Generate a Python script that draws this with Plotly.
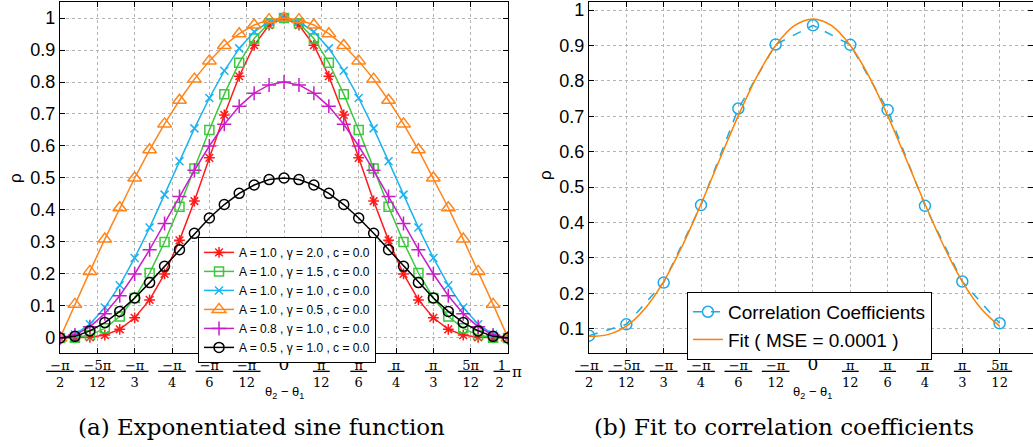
import numpy as np
import plotly.graph_objects as go

# ---------------- data ----------------
theta_deg = [-90, -84, -78, -72, -66, -60, -54, -48, -42, -36, -30, -24, -18, -12, -6, 0,
             6, 12, 18, 24, 30, 36, 42, 48, 54, 60, 66, 72, 78, 84, 90]

rho_a10_g20 = [0.000, 0.000, 0.002, 0.009, 0.027, 0.063, 0.119, 0.200, 0.305, 0.428, 0.563, 0.697, 0.818, 0.915, 0.978, 1.000,
               0.978, 0.915, 0.818, 0.697, 0.563, 0.428, 0.305, 0.200, 0.119, 0.063, 0.027, 0.009, 0.002, 0.000, 0.000]
rho_a10_g15 = [0.000, 0.001, 0.009, 0.030, 0.067, 0.125, 0.203, 0.300, 0.410, 0.530, 0.650, 0.762, 0.860, 0.936, 0.984, 1.000,
               0.984, 0.936, 0.860, 0.762, 0.650, 0.530, 0.410, 0.300, 0.203, 0.125, 0.067, 0.030, 0.009, 0.001, 0.000]
rho_a10_g10 = [0.000, 0.011, 0.043, 0.095, 0.165, 0.250, 0.345, 0.448, 0.552, 0.655, 0.750, 0.835, 0.905, 0.957, 0.989, 1.000,
               0.989, 0.957, 0.905, 0.835, 0.750, 0.655, 0.552, 0.448, 0.345, 0.250, 0.165, 0.095, 0.043, 0.011, 0.000]
rho_a10_g05 = [0.000, 0.105, 0.208, 0.309, 0.407, 0.500, 0.588, 0.669, 0.743, 0.809, 0.866, 0.914, 0.951, 0.978, 0.995, 1.000,
               0.995, 0.978, 0.951, 0.914, 0.866, 0.809, 0.743, 0.669, 0.588, 0.500, 0.407, 0.309, 0.208, 0.105, 0.000]
rho_a08_g10 = [0.000, 0.009, 0.035, 0.076, 0.132, 0.200, 0.276, 0.358, 0.442, 0.524, 0.600, 0.668, 0.724, 0.765, 0.791, 0.800,
               0.791, 0.765, 0.724, 0.668, 0.600, 0.524, 0.442, 0.358, 0.276, 0.200, 0.132, 0.076, 0.035, 0.009, 0.000]
rho_a05_g10 = [0.000, 0.005, 0.022, 0.048, 0.083, 0.125, 0.173, 0.224, 0.276, 0.327, 0.375, 0.417, 0.452, 0.478, 0.495, 0.500,
               0.495, 0.478, 0.452, 0.417, 0.375, 0.327, 0.276, 0.224, 0.173, 0.125, 0.083, 0.048, 0.022, 0.005, 0.000]

series_names = ["A = 1.0 , γ = 2.0 , c = 0.0", "A = 1.0 , γ = 1.5 , c = 0.0",
                "A = 1.0 , γ = 1.0 , c = 0.0", "A = 1.0 , γ = 0.5 , c = 0.0",
                "A = 0.8 , γ = 1.0 , c = 0.0", "A = 0.5 , γ = 1.0 , c = 0.0"]

corr_deg = [-90, -75, -60, -45, -30, -15, 0, 15, 30, 45, 60, 75]
corr_vals = [0.080, 0.112, 0.230, 0.449, 0.722, 0.903, 0.957, 0.902, 0.718, 0.447, 0.233, 0.115]

fit_deg = [-90, -82.5, -75, -67.5, -60, -52.5, -45, -37.5, -30, -22.5, -15, -7.5, 0,
           7.5, 15, 22.5, 30, 37.5, 45, 52.5, 60, 67.5, 75]
fit_vals = [0.078, 0.083, 0.107, 0.157, 0.233, 0.334, 0.452, 0.578, 0.702, 0.813, 0.900, 0.956, 0.975,
            0.956, 0.900, 0.813, 0.702, 0.578, 0.452, 0.334, 0.233, 0.157, 0.107]

left_tick_deg = [-90, -75, -60, -45, -30, -15, 0, 15, 30, 45, 60, 75, 90]
right_tick_deg = [-90, -75, -60, -45, -30, -15, 0, 15, 30, 45, 60, 75]
tick_num = ["−π", "−5π", "−π", "−π", "−π", "−π", "0", "π", "π", "π", "π", "5π", "1"]
tick_den = ["2", "12", "3", "4", "6", "12", "", "12", "6", "4", "3", "12", "2"]

left_yticks = [0, 0.1, 0.2, 0.3, 0.4, 0.5, 0.6, 0.7, 0.8, 0.9, 1.0]
right_yticks = [0.1, 0.2, 0.3, 0.4, 0.5, 0.6, 0.7, 0.8, 0.9, 1.0]

# ---------------- helpers ----------------
rad = lambda lst: [d * np.pi / 180 for d in lst]
NB = "\u00a0"


def frac(n, d, last=False):
    if d == "":
        return "<span style='font-size:17px'>" + n + "</span>"
    if last:
        return "<u>" + NB + n + NB + "</u>" + NB * 3 + "<br>" + d + NB * 4
    return "<u>" + NB + n + NB + "</u><br>" + d


tick_text = [frac(n, d, i == len(tick_num) - 1) for i, (n, d) in enumerate(zip(tick_num, tick_den))]

SANS = "Liberation Sans, Arial, sans-serif"
SERIF = "DejaVu Serif, serif"

fig = go.Figure()

styles = [
    dict(color="#ff1a1a", symbol="asterisk-open", size=9),
    dict(color="#3cc83c", symbol="square-open", size=9),
    dict(color="#1ab4f0", symbol="x-thin-open", size=8),
    dict(color="#ff8419", symbol="triangle-up-open", size=12),
    dict(color="#c81ec8", symbol="cross-thin-open", size=10),
    dict(color="#000000", symbol="circle-open", size=10),
]
series = [rho_a10_g20, rho_a10_g15, rho_a10_g10, rho_a10_g05, rho_a08_g10, rho_a05_g10]

for name, vals, st in zip(series_names, series, styles):
    fig.add_trace(go.Scatter(
        x=rad(theta_deg), y=vals, mode="lines+markers", name=name,
        line=dict(color=st["color"], width=1.5),
        marker=dict(symbol=st["symbol"], size=st["size"], color=st["color"],
                    line=dict(color=st["color"], width=1.5)),
        xaxis="x", yaxis="y", legend="legend"))

fig.add_trace(go.Scatter(
    x=rad(corr_deg), y=corr_vals, mode="lines+markers", name="Correlation Coefficients",
    line=dict(color="#1aaae6", width=1.5, dash="dash"),
    marker=dict(symbol="circle-open", size=11, color="#1aaae6", line=dict(color="#1aaae6", width=1.5)),
    xaxis="x2", yaxis="y2", legend="legend2"))
fig.add_trace(go.Scatter(
    x=rad(fit_deg), y=fit_vals, mode="lines", name="Fit ( MSE = 0.0001 )",
    line=dict(color="#ff8000", width=1.5, shape="spline"),
    xaxis="x2", yaxis="y2", legend="legend2"))

axis_common = dict(
    showline=True, linecolor="black", linewidth=1.2, mirror="allticks",
    ticks="inside", ticklen=5, tickcolor="black", tickwidth=1,
    showgrid=True, gridcolor="#b4b4b4", griddash="dot", gridwidth=1,
    zeroline=False, automargin=False,
)

ydom = [0.2103, 0.9955]
fig.update_layout(
    width=1033, height=447,
    margin=dict(l=0, r=0, t=0, b=0, autoexpand=False),
    plot_bgcolor="white", paper_bgcolor="white",
    xaxis=dict(domain=[0.0581, 0.4918], range=[-np.pi / 2, np.pi / 2], anchor="y",
               tickvals=rad(left_tick_deg), ticktext=tick_text,
               tickfont=dict(family=SERIF, size=13, color="black"), **axis_common),
    yaxis=dict(domain=ydom, range=[-0.047, 1.05], anchor="x",
               tickvals=left_yticks, ticktext=[f"{v:g}" for v in left_yticks],
               tickfont=dict(family=SANS, size=18, color="black"), **axis_common),
    xaxis2=dict(domain=[0.5702, 1.0], range=[-np.pi / 2, 1.543], anchor="y2",
                tickvals=rad(right_tick_deg), ticktext=tick_text[:len(right_tick_deg)],
                tickfont=dict(family=SERIF, size=13, color="black"), **axis_common),
    yaxis2=dict(domain=ydom, range=[0.031, 1.023], anchor="x2",
                tickvals=right_yticks, ticktext=[f"{v:g}" for v in right_yticks],
                tickfont=dict(family=SANS, size=18, color="black"), **axis_common),
    legend=dict(x=0.1917, y=0.47, xanchor="left", yanchor="top",
                font=dict(family=SANS, size=12, color="black"),
                bgcolor="white", bordercolor="black", borderwidth=1,
                tracegroupgap=0, itemwidth=30),
    legend2=dict(x=0.665, y=0.347, xanchor="left", yanchor="top",
                 font=dict(family=SANS, size=19, color="black"),
                 bgcolor="white", bordercolor="black", borderwidth=1,
                 tracegroupgap=0, itemwidth=30),
    showlegend=True,
)

annots = [
    dict(text="ρ", x=16 / 1033, y=0.602, xref="paper", yref="paper", textangle=-90,
         xanchor="center", yanchor="middle",
         showarrow=False, font=dict(family=SANS, size=17, color="black")),
    dict(text="ρ", x=545 / 1033, y=0.6085, xref="paper", yref="paper", textangle=-90,
         xanchor="center", yanchor="middle",
         showarrow=False, font=dict(family=SANS, size=17, color="black")),
    dict(text="θ<sub>2</sub> − θ<sub>1</sub>", x=0, y=0.123, xref="x", yref="paper",
         xanchor="center", yanchor="middle",
         showarrow=False, font=dict(family=SANS, size=13, color="black")),
    dict(text="θ<sub>2</sub> − θ<sub>1</sub>", x=0, y=0.123, xref="x2", yref="paper",
         xanchor="center", yanchor="middle",
         showarrow=False, font=dict(family=SANS, size=13, color="black")),
    dict(text="π", x=rad(left_tick_deg)[-1], xshift=9, y=0.168, xref="x", yref="paper",
         xanchor="center", yanchor="middle",
         showarrow=False, font=dict(family=SERIF, size=15, color="black")),
    dict(text="(a) Exponentiated sine function", x=261 / 1033, y=0.0447, xref="paper", yref="paper",
         xanchor="center", yanchor="middle",
         showarrow=False, font=dict(family=SERIF, size=23, color="black")),
    dict(text="(b) Fit to correlation coefficients", x=784 / 1033, y=0.0447, xref="paper", yref="paper",
         xanchor="center", yanchor="middle",
         showarrow=False, font=dict(family=SERIF, size=23, color="black")),
]
fig.update_layout(annotations=annots)

fig.write_html("out.html", config={"displayModeBar": False},
               post_script="document.body.style.margin='0';document.body.style.overflow='hidden';")
